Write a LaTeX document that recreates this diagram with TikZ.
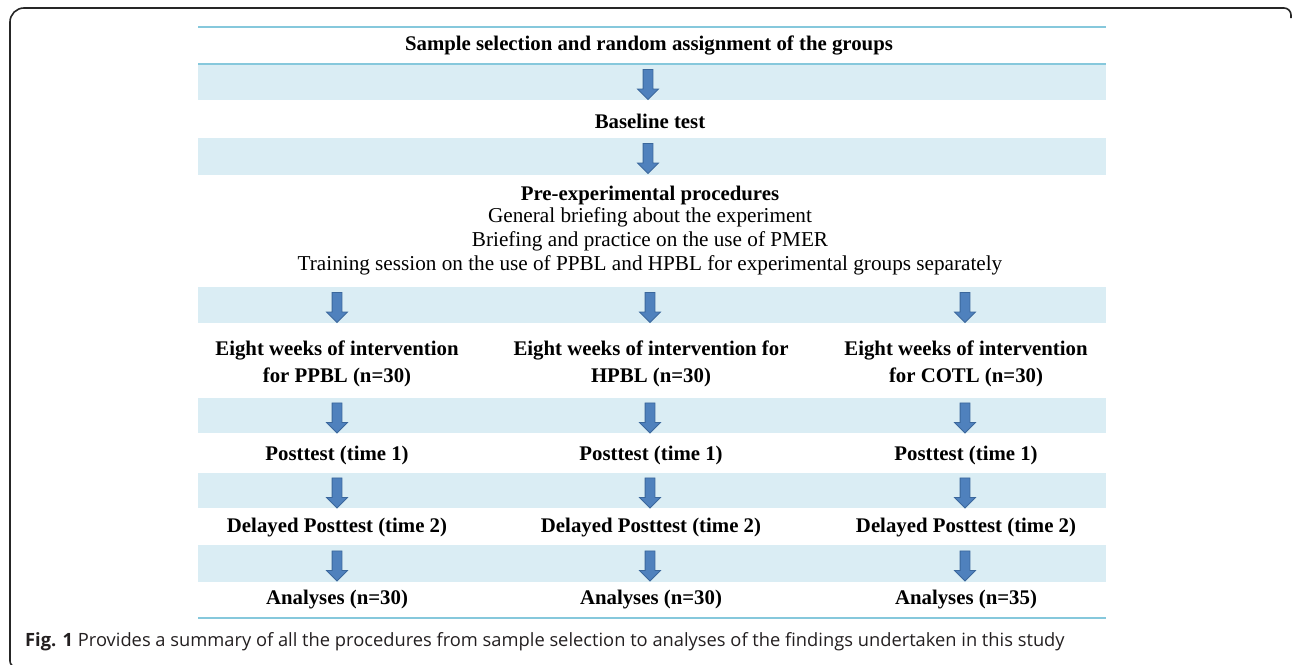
\documentclass[tikz,border=0pt]{standalone}
\usepackage{fontspec}
\setmainfont{Liberation Serif}
\newfontfamily\capfont{Open Sans}
\usetikzlibrary{shapes.arrows}
\definecolor{bandblue}{HTML}{DAEDF4}
\definecolor{ruleblue}{HTML}{86C8DC}
\definecolor{arrowfill}{HTML}{4F81BD}
\definecolor{arrowedge}{HTML}{3A679C}
\definecolor{captext}{HTML}{231F20}
\tikzset{
  band/.style={fill=bandblue, draw=none},
  rulel/.style={draw=ruleblue, line width=2pt},
  boldtxt/.style={font=\fontsize{20.8}{27}\selectfont\bfseries, align=center, inner sep=0pt},
  plaintxt/.style={font=\fontsize{21.2}{24.3}\selectfont, align=center, inner sep=0pt},
  downarrow/.style={single arrow, shape border rotate=270, fill=arrowfill, draw=arrowedge,
     line width=0.8pt, minimum height=30pt, single arrow head extend=5.5pt,
     single arrow head indent=0pt, inner sep=4.5pt},
  frameline/.style={draw=black!85, line width=1.6pt}
}
\begin{document}
\begin{tikzpicture}[x=1pt,y=-1pt]
\useasboundingbox (0,0) rectangle (1292,664);
% outer frame
\draw[frameline] (1291,18) [rounded corners=7pt]-- (1291,8) [rounded corners=14pt]-- (10,8) [rounded corners=6pt]-- (10,667) -- (18,667);
% bands
\foreach \a/\b in {64/100,138/175,287/323,398/433,473/508,545/582}{
  \path[band] (198,\a) rectangle (1106,\b);
}
% rules
\draw[rulel] (198,27) -- (1106,27);
\draw[rulel] (198,63.5) -- (1106,63.5);
\draw[rulel] (198,618) -- (1106,618);
% text rows
\node[boldtxt] (sel) at (649,45) {Sample selection and random assignment of the groups};
\node[boldtxt] (base) at (650,121) {Baseline test};
\node[boldtxt] (pre) at (650,195) {Pre-experimental procedures};
\node[plaintxt, anchor=north] (prelist) at (650,207) {General briefing about the experiment\\Briefing and practice on the use of PMER\\Training session on the use of PPBL and HPBL for experimental groups separately};
\node[boldtxt] (int1) at (337,363.5) {Eight weeks of intervention\\for PPBL (n=30)};
\node[boldtxt] (int2) at (651,363.5) {Eight weeks of intervention for\\HPBL (n=30)};
\node[boldtxt] (int3) at (966,363.5) {Eight weeks of intervention\\for COTL (n=30)};
\node[boldtxt] (pt1) at (337,455) {Posttest (time 1)};
\node[boldtxt] (pt2) at (651,455) {Posttest (time 1)};
\node[boldtxt] (pt3) at (966,455) {Posttest (time 1)};
\node[boldtxt] (dp1) at (337,528) {Delayed Posttest (time 2)};
\node[boldtxt] (dp2) at (651,528) {Delayed Posttest (time 2)};
\node[boldtxt] (dp3) at (966,528) {Delayed Posttest (time 2)};
\node[boldtxt] (an1) at (337,600) {Analyses (n=30)};
\node[boldtxt] (an2) at (651,600) {Analyses (n=30)};
\node[boldtxt] (an3) at (966,600) {Analyses (n=35)};
% arrows
\node[downarrow] (ar1) at (648,82) {};
\node[downarrow] (ar2) at (648,156) {};
\foreach \x/\n in {337/a,650/b,965/c}{
  \node[downarrow] (ar3\n) at (\x,305) {};
  \node[downarrow] (ar4\n) at (\x,415.5) {};
  \node[downarrow] (ar5\n) at (\x,490.5) {};
  \node[downarrow] (ar6\n) at (\x,563.5) {};
}
% caption
\node[anchor=west, inner sep=0pt, font=\capfont\fontsize{18.3}{22}\selectfont, text=captext] (cap) at (25,642)
  {\textbf{Fig. 1} Provides a summary of all the procedures from sample selection to analyses of the findings undertaken in this study};
\end{tikzpicture}
\end{document}
